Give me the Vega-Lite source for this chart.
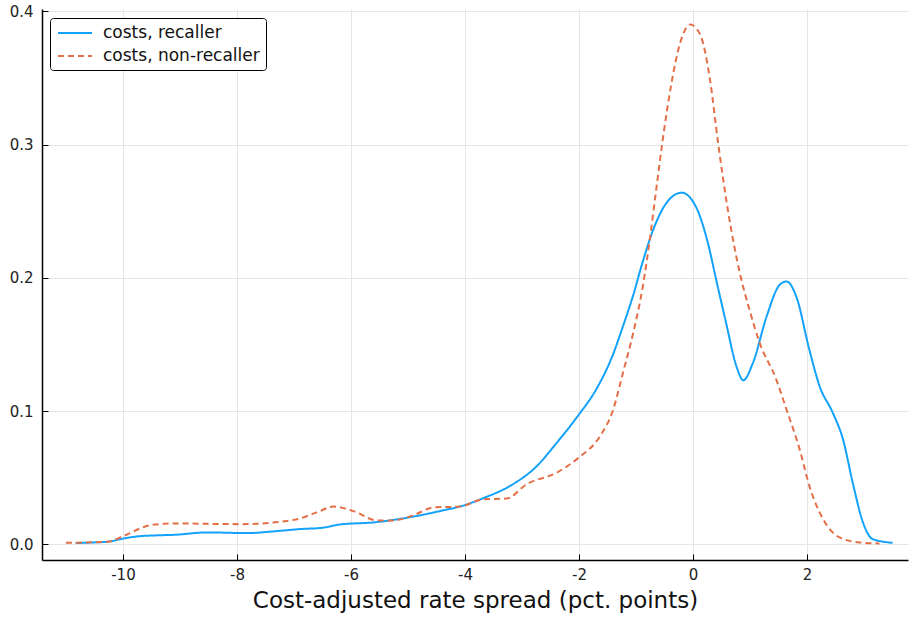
{
  "$schema": "https://vega.github.io/schema/vega-lite/v6.json",
  "width": 866,
  "height": 551,
  "autosize": {"type": "none"},
  "padding": {"left": 42, "top": 9, "right": 1, "bottom": 59},
  "background": "white",
  "view": {"stroke": null},
  "config": {
    "font": "DejaVu Sans",
    "axis": {
      "domainColor": "black",
      "domainWidth": 1.5,
      "tickColor": "black",
      "tickWidth": 1,
      "gridColor": "#e6e6e6",
      "gridWidth": 1,
      "labelFont": "DejaVu Sans",
      "labelFontSize": 15,
      "labelColor": "#222222",
      "titleFont": "DejaVu Sans",
      "titleFontWeight": "normal",
      "titleColor": "#111111"
    },
    "legend": {
      "labelFont": "DejaVu Sans",
      "labelFontSize": 17,
      "labelColor": "#111111"
    }
  },
  "data": {
    "values": [
      {"series": "costs, recaller", "x": -10.83, "y": 0.001},
      {"series": "costs, recaller", "x": -10.5, "y": 0.0015},
      {"series": "costs, recaller", "x": -10.27, "y": 0.002},
      {"series": "costs, recaller", "x": -9.98, "y": 0.0045},
      {"series": "costs, recaller", "x": -9.75, "y": 0.006},
      {"series": "costs, recaller", "x": -9.4, "y": 0.0068},
      {"series": "costs, recaller", "x": -9.1, "y": 0.0072},
      {"series": "costs, recaller", "x": -8.52, "y": 0.009},
      {"series": "costs, recaller", "x": -7.82, "y": 0.0085},
      {"series": "costs, recaller", "x": -7.3, "y": 0.01},
      {"series": "costs, recaller", "x": -6.89, "y": 0.0115},
      {"series": "costs, recaller", "x": -6.5, "y": 0.0125},
      {"series": "costs, recaller", "x": -6.19, "y": 0.015},
      {"series": "costs, recaller", "x": -5.61, "y": 0.0165},
      {"series": "costs, recaller", "x": -5.02, "y": 0.02},
      {"series": "costs, recaller", "x": -4.44, "y": 0.025},
      {"series": "costs, recaller", "x": -4.01, "y": 0.0294},
      {"series": "costs, recaller", "x": -3.68, "y": 0.0347},
      {"series": "costs, recaller", "x": -3.21, "y": 0.0439},
      {"series": "costs, recaller", "x": -2.74, "y": 0.0588},
      {"series": "costs, recaller", "x": -2.39, "y": 0.0763},
      {"series": "costs, recaller", "x": -2.01, "y": 0.097},
      {"series": "costs, recaller", "x": -1.69, "y": 0.117},
      {"series": "costs, recaller", "x": -1.4, "y": 0.143},
      {"series": "costs, recaller", "x": -1.23, "y": 0.1636},
      {"series": "costs, recaller", "x": -1.05, "y": 0.187},
      {"series": "costs, recaller", "x": -0.88, "y": 0.2125},
      {"series": "costs, recaller", "x": -0.7, "y": 0.236},
      {"series": "costs, recaller", "x": -0.47, "y": 0.256},
      {"series": "costs, recaller", "x": -0.2, "y": 0.2639},
      {"series": "costs, recaller", "x": 0.06, "y": 0.2525},
      {"series": "costs, recaller", "x": 0.23, "y": 0.231},
      {"series": "costs, recaller", "x": 0.44, "y": 0.192},
      {"series": "costs, recaller", "x": 0.58, "y": 0.166},
      {"series": "costs, recaller", "x": 0.76, "y": 0.1337},
      {"series": "costs, recaller", "x": 0.88, "y": 0.1232},
      {"series": "costs, recaller", "x": 1.05, "y": 0.1362},
      {"series": "costs, recaller", "x": 1.29, "y": 0.171},
      {"series": "costs, recaller", "x": 1.52, "y": 0.1948},
      {"series": "costs, recaller", "x": 1.64, "y": 0.1973},
      {"series": "costs, recaller", "x": 1.81, "y": 0.186},
      {"series": "costs, recaller", "x": 2.04, "y": 0.146},
      {"series": "costs, recaller", "x": 2.22, "y": 0.1187},
      {"series": "costs, recaller", "x": 2.45, "y": 0.0988},
      {"series": "costs, recaller", "x": 2.63, "y": 0.0788},
      {"series": "costs, recaller", "x": 2.8, "y": 0.0464},
      {"series": "costs, recaller", "x": 2.98, "y": 0.0165},
      {"series": "costs, recaller", "x": 3.15, "y": 0.004},
      {"series": "costs, recaller", "x": 3.5, "y": 0.0012},
      {"series": "costs, non-recaller", "x": -11.0, "y": 0.0012},
      {"series": "costs, non-recaller", "x": -10.27, "y": 0.002},
      {"series": "costs, non-recaller", "x": -9.98, "y": 0.0065},
      {"series": "costs, non-recaller", "x": -9.51, "y": 0.0145},
      {"series": "costs, non-recaller", "x": -9.1, "y": 0.0157},
      {"series": "costs, non-recaller", "x": -7.94, "y": 0.0152},
      {"series": "costs, non-recaller", "x": -7.0, "y": 0.0184},
      {"series": "costs, non-recaller", "x": -6.6, "y": 0.024},
      {"series": "costs, non-recaller", "x": -6.31, "y": 0.0284},
      {"series": "costs, non-recaller", "x": -5.96, "y": 0.025},
      {"series": "costs, non-recaller", "x": -5.54, "y": 0.018},
      {"series": "costs, non-recaller", "x": -5.26, "y": 0.018},
      {"series": "costs, non-recaller", "x": -4.9, "y": 0.022},
      {"series": "costs, non-recaller", "x": -4.56, "y": 0.0277},
      {"series": "costs, non-recaller", "x": -4.09, "y": 0.0284},
      {"series": "costs, non-recaller", "x": -3.68, "y": 0.0339},
      {"series": "costs, non-recaller", "x": -3.27, "y": 0.0344},
      {"series": "costs, non-recaller", "x": -2.92, "y": 0.0451},
      {"series": "costs, non-recaller", "x": -2.39, "y": 0.0539},
      {"series": "costs, non-recaller", "x": -2.01, "y": 0.065},
      {"series": "costs, non-recaller", "x": -1.63, "y": 0.0813},
      {"series": "costs, non-recaller", "x": -1.4, "y": 0.1013},
      {"series": "costs, non-recaller", "x": -1.23, "y": 0.1287},
      {"series": "costs, non-recaller", "x": -1.05, "y": 0.1587},
      {"series": "costs, non-recaller", "x": -0.88, "y": 0.194},
      {"series": "costs, non-recaller", "x": -0.76, "y": 0.2285},
      {"series": "costs, non-recaller", "x": -0.64, "y": 0.2684},
      {"series": "costs, non-recaller", "x": -0.5, "y": 0.3133},
      {"series": "costs, non-recaller", "x": -0.38, "y": 0.3458},
      {"series": "costs, non-recaller", "x": -0.23, "y": 0.3757},
      {"series": "costs, non-recaller", "x": -0.05, "y": 0.39},
      {"series": "costs, non-recaller", "x": 0.12, "y": 0.383},
      {"series": "costs, non-recaller", "x": 0.29, "y": 0.3507},
      {"series": "costs, non-recaller", "x": 0.44, "y": 0.3009},
      {"series": "costs, non-recaller", "x": 0.61, "y": 0.251},
      {"series": "costs, non-recaller", "x": 0.82, "y": 0.2036},
      {"series": "costs, non-recaller", "x": 0.99, "y": 0.176},
      {"series": "costs, non-recaller", "x": 1.17, "y": 0.151},
      {"series": "costs, non-recaller", "x": 1.46, "y": 0.1237},
      {"series": "costs, non-recaller", "x": 1.64, "y": 0.101},
      {"series": "costs, non-recaller", "x": 1.87, "y": 0.0713},
      {"series": "costs, non-recaller", "x": 2.04, "y": 0.0439},
      {"series": "costs, non-recaller", "x": 2.28, "y": 0.019},
      {"series": "costs, non-recaller", "x": 2.57, "y": 0.0052},
      {"series": "costs, non-recaller", "x": 2.92, "y": 0.0015},
      {"series": "costs, non-recaller", "x": 3.27, "y": 0.0007}
    ]
  },
  "mark": {"type": "line", "interpolate": "monotone", "strokeWidth": 2, "clip": true},
  "encoding": {
    "x": {
      "field": "x",
      "type": "quantitative",
      "scale": {"domain": [-11.42, 3.77], "nice": false, "zero": false},
      "axis": {
        "values": [-10, -8, -6, -4, -2, 0, 2],
        "labelExpr": "datum.value + ''",
        "tickSize": -6,
        "labelPadding": 13,
        "title": "Cost-adjusted rate spread (pct. points)",
        "titleFontSize": 23,
        "titlePadding": 7
      }
    },
    "y": {
      "field": "y",
      "type": "quantitative",
      "scale": {"domain": [-0.0117, 0.4017], "nice": false, "zero": false},
      "axis": {
        "values": [0, 0.1, 0.2, 0.3, 0.4],
        "format": ".1f",
        "tickSize": -6,
        "labelPadding": 15,
        "title": null
      }
    },
    "color": {
      "field": "series",
      "type": "nominal",
      "scale": {"domain": ["costs, recaller", "costs, non-recaller"], "range": ["#12A2FA", "#E36F47"]},
      "legend": {
        "title": null,
        "orient": "none",
        "legendX": 8,
        "legendY": 9,
        "strokeColor": "black",
        "fillColor": "white",
        "cornerRadius": 3,
        "padding": 6,
        "symbolType": "M-2.125,0H2.125",
        "symbolSize": 256,
        "symbolOffset": 10,
        "symbolStrokeWidth": 2,
        "rowPadding": 6,
        "labelOffset": 19
      }
    },
    "strokeDash": {
      "field": "series",
      "type": "nominal",
      "scale": {"domain": ["costs, recaller", "costs, non-recaller"], "range": [[1, 0], [6, 4]]},
      "legend": {
        "title": null,
        "orient": "none",
        "legendX": 8,
        "legendY": 9,
        "strokeColor": "black",
        "fillColor": "white",
        "cornerRadius": 3,
        "padding": 6,
        "symbolType": "M-2.125,0H2.125",
        "symbolSize": 256,
        "symbolOffset": 10,
        "symbolStrokeWidth": 2,
        "rowPadding": 6,
        "labelOffset": 19
      }
    }
  }
}
